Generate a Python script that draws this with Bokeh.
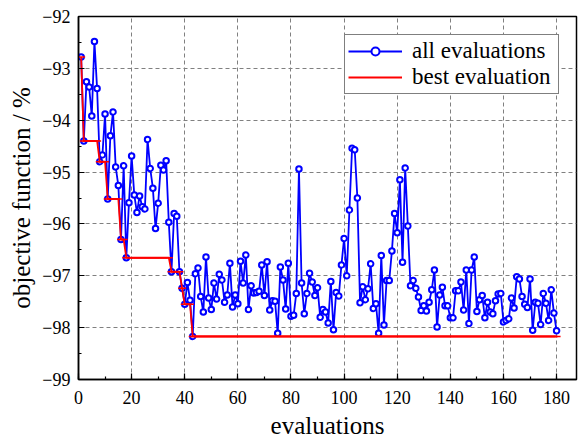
import numpy as np
from bokeh.plotting import figure
from bokeh.models import SingleIntervalTicker, Range1d, Legend, LegendItem
from bokeh.embed import file_html
from bokeh.resources import INLINE

evaluations = list(range(1, 181))
objective = [
    -92.78, -94.40, -93.26, -93.36, -93.92, -92.48, -93.39, -94.80, -94.67, -93.88,
    -95.52, -94.30, -93.84, -94.90, -95.26, -96.30, -94.88, -96.65, -95.59, -94.69,
    -95.44, -95.78, -95.46, -95.67, -95.71, -94.37, -94.93, -95.31, -96.09, -95.60,
    -94.87, -94.96, -94.78, -95.97, -96.92, -95.80, -95.85, -96.92, -97.24, -97.55,
    -97.13, -97.47, -98.17, -96.96, -96.85, -97.40, -97.70, -96.64, -97.43, -97.65,
    -97.14, -97.45, -96.97, -97.08, -97.51, -97.37, -96.76, -97.60, -97.37, -97.54,
    -96.72, -97.14, -96.60, -97.65, -97.19, -97.33, -97.32, -97.30, -96.79, -97.38,
    -96.73, -97.66, -97.48, -97.49, -98.11, -96.83, -97.08, -97.64, -96.76, -97.78,
    -97.76, -97.34, -94.94, -97.14, -97.73, -97.34, -96.95, -97.12, -97.38, -97.23,
    -97.80, -97.65, -97.70, -97.91, -97.11, -98.04, -97.32, -97.39, -96.79, -96.28,
    -97.00, -95.73, -94.54, -94.57, -95.50, -97.52, -97.21, -97.46, -97.25, -96.77,
    -97.63, -97.54, -98.11, -96.61, -97.95, -97.09, -97.09, -96.52, -95.80, -96.17,
    -95.15, -96.74, -94.92, -96.04, -97.19, -97.09, -97.24, -97.41, -97.67, -97.58,
    -97.68, -97.51, -97.27, -96.89, -97.99, -97.37, -97.22, -97.58, -97.58, -97.81,
    -97.81, -97.29, -97.29, -97.12, -97.66, -96.89, -97.92, -96.89, -96.64, -97.69,
    -97.46, -97.38, -97.81, -97.51, -97.70, -97.73, -97.48, -97.35, -97.34, -97.89,
    -97.86, -97.83, -97.43, -97.62, -97.02, -97.06, -97.40, -97.55, -97.61, -97.06,
    -98.05, -97.51, -97.53, -97.94, -97.34, -97.53, -97.86, -97.27, -97.72, -98.06,
]
# best evaluation so far (running minimum of the objective)
best = np.minimum.accumulate(np.array(objective)).tolist()

FONT = "'Liberation Serif', 'Times New Roman', serif"

p = figure(width=578, height=441, output_backend="svg", toolbar_location=None,
           x_range=Range1d(0, 187.5), y_range=Range1d(-99, -92),
           min_border_left=78, min_border_right=2, min_border_top=16,
           min_border_bottom=62)

p.xaxis.ticker = SingleIntervalTicker(interval=20, num_minor_ticks=2)
p.yaxis.ticker = SingleIntervalTicker(interval=1, num_minor_ticks=2)

p.xgrid.grid_line_dash = "4 3"
p.ygrid.grid_line_dash = "4 3"
p.xgrid.grid_line_color = "#808080"
p.ygrid.grid_line_color = "#808080"
p.xgrid.grid_line_width = 1
p.ygrid.grid_line_width = 1

p.outline_line_color = "black"
p.outline_line_width = 1.5
p.outline_line_alpha = 1

for ax in (p.xaxis[0], p.yaxis[0]):
    ax.axis_line_width = 1.5
    ax.axis_line_color = "black"
    ax.major_tick_in = 6
    ax.major_tick_out = 0
    ax.minor_tick_in = 3
    ax.minor_tick_out = 0
    ax.major_tick_line_color = "black"
    ax.minor_tick_line_color = "black"
    ax.major_tick_line_width = 1.2
    ax.minor_tick_line_width = 1.2
    ax.major_label_text_font = FONT
    ax.major_label_text_font_size = "18px"
    ax.major_label_text_color = "black"
    ax.axis_label_text_font = FONT
    ax.axis_label_text_font_size = "25px"
    ax.axis_label_text_font_style = "normal"
    ax.axis_label_text_color = "black"

p.xaxis.axis_label = "evaluations"
p.yaxis.axis_label = "objective function / %"
p.xaxis.major_label_standoff = 11
p.xaxis.axis_label_standoff = 5
p.yaxis.major_label_standoff = 8
p.yaxis.axis_label_standoff = 4

r1 = p.line(evaluations, objective, line_color="blue", line_width=1.8)
r2 = p.scatter(evaluations, objective, marker="circle", size=5.5,
               line_color="blue", fill_color="white", line_width=2)
r3 = p.line(evaluations, best, line_color="red", line_width=1.8)
r4 = p.scatter(evaluations, best, marker="dash", size=8,
               line_color="red", line_width=1.5)

legend = Legend(items=[LegendItem(label="all evaluations", renderers=[r1, r2]),
                       LegendItem(label="best evaluation", renderers=[r3])],
                location=(266, 285))
legend.label_text_font = FONT
legend.label_text_font_size = "23px"
legend.label_text_color = "black"
legend.glyph_width = 54
legend.glyph_height = 20
legend.label_standoff = 10
legend.label_width = 143
legend.padding = 3
legend.spacing = 0
legend.margin = 0
legend.border_line_color = "black"
legend.border_line_width = 1
legend.background_fill_color = "white"
legend.background_fill_alpha = 1
p.add_layout(legend, "center")

open("out.html", "w").write(file_html(p, INLINE))
